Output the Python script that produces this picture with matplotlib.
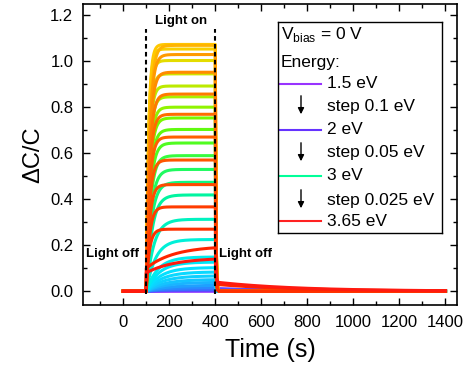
import numpy as np
import matplotlib
matplotlib.use("Agg")
import matplotlib.pyplot as plt
from matplotlib.ticker import MultipleLocator

plt.rcParams["font.family"] = ["Liberation Sans", "DejaVu Sans"]

# light on / off times (s)
t_on, t_off, t_end = 100, 400, 1400

# plateau values of dC/C, low energy (violet) -> 3 eV+ (yellow)
rainbow_amp = [0.0, 0.002, 0.005, 0.009, 0.016, 0.026, 0.039, 0.051, 0.067, 0.084,
               0.103, 0.127, 0.149, 0.225, 0.313, 0.419, 0.474, 0.530, 0.590, 0.645,
               0.704, 0.754, 0.801, 0.846, 0.893, 0.946, 1.004, 1.054, 1.074]
rainbow_colors = ["#9933ff", "#7a33ff", "#5a4cff", "#3a6cff", "#2a88ff", "#1fa0ff",
                  "#1ab4ff", "#14c4ff", "#0fd0ff", "#0ad8ff", "#05e0ff", "#00e6f8",
                  "#00ecee", "#00f0d8", "#00f2c0", "#00f5a0", "#10f880", "#20fa60",
                  "#38fc40", "#50fc20", "#60fa10", "#78f800", "#90f400", "#a8f000",
                  "#bcea00", "#d0e400", "#e4dc00", "#f8d000", "#ffc800"]
rainbow_tau = [90, 90, 90, 90, 85, 85, 80, 75, 70, 65, 60, 55, 50, 40, 32, 25, 22,
               20, 18, 17, 16, 15, 14, 13, 12, 12, 11, 10, 10]

# high energy curves (orange -> red), plateau values at t = 400 s
hot_amp = [1.070, 1.030, 0.953, 0.858, 0.770, 0.671, 0.571, 0.464, 0.367, 0.270,
           0.197, 0.145]
hot_jump = [0.0, 0.0, 0.0, 0.0, 0.0, 0.0, 0.0, 0.0, 0.0, 0.02, 0.10, 0.08]
hot_colors = ["#ffb400", "#ff9a00", "#ff8c00", "#ff7a00", "#ff6c00", "#ff6000",
              "#ff5500", "#ff4a00", "#ff3c00", "#ff3000", "#ff2400", "#ff1a10"]
hot_tail = [0.0, 0.0, 0.0, 0.0, 0.0, 0.0, 0.0, 0.0, 0.0, 0.0, 0.03, 0.04]

t = np.linspace(0, t_end, 1401)


def trace(amp, tau, jump=0.0, tail=0.0):
    y = np.zeros_like(t)
    on = (t >= t_on) & (t <= t_off)
    slow = amp - jump
    y[on] = jump + slow * (1 - np.exp(-(t[on] - t_on) / tau))
    off = t > t_off
    y[off] = tail * np.exp(-(t[off] - t_off) / 350) + amp * np.exp(-(t[off] - t_off) / 2.5)
    return y


fig = plt.figure(figsize=(4.73, 3.73), dpi=100)
ax = fig.add_axes([83 / 473, 68 / 373, 374 / 473, 301 / 373])

for a, c, tau in zip(rainbow_amp, rainbow_colors, rainbow_tau):
    ax.plot(t, trace(a, tau, tail=0.01 if a < 0.006 else 0.0), color=c, lw=2.2)
for i, (a, c) in enumerate(zip(hot_amp, hot_colors)):
    tau = 120 if i >= 10 else 14
    ax.plot(t, trace(a, tau, hot_jump[i], hot_tail[i]), color=c, lw=2.2)

for x0 in (t_on, t_off):
    ax.plot([x0, x0], [-0.012, 1.14], color="black", ls=(0, (2.2, 1.6)), lw=1.5)

ax.text(250, 1.178, "Light on", ha="center", va="center", fontsize=9.5, fontweight="bold")
ax.text(-45, 0.16, "Light off", ha="center", va="center", fontsize=9.5, fontweight="bold")
ax.text(418, 0.16, "Light off", ha="left", va="center", fontsize=9.5, fontweight="bold")

ax.set_xlim(-175, 1450)
ax.set_ylim(-0.06, 1.25)
ax.xaxis.set_minor_locator(MultipleLocator(100))
ax.yaxis.set_major_locator(MultipleLocator(0.2))
ax.yaxis.set_minor_locator(MultipleLocator(0.1))
ax.set_xticks(np.arange(0, 1401, 200))
ax.yaxis.set_major_formatter(plt.FormatStrFormatter("%.1f"))
ax.tick_params(which="both", direction="in", top=True, right=True, labelsize=12, width=1)
ax.tick_params(which="major", length=5, pad=7)
ax.tick_params(which="minor", length=3)
for s in ax.spines.values():
    s.set_linewidth(1.2)
ax.set_xlabel("Time (s)", fontsize=18, labelpad=6)
ax.set_ylabel("ΔC/C", fontsize=17, labelpad=4)

# legend box drawn by hand
lg = fig.add_axes([278 / 473, (373 - 233) / 373, 164 / 473, 211 / 373])
lg.set_xlim(0, 164)
lg.set_ylim(211, 0)
lg.set_xticks([])
lg.set_yticks([])
for s in lg.spines.values():
    s.set_linewidth(1)
fs = 12.5
lg.text(3, 13, r"V$_{\mathregular{bias}}$ = 0 V", fontsize=fs, va="center")
lg.text(3, 40, "Energy:", fontsize=fs, va="center")
entries = [("1.5 eV", "#9933ff", 62), ("2 eV", "#6633ff", 108),
           ("3 eV", "#00ff99", 154), ("3.65 eV", "#ff2222", 199)]
for lab, c, yy in entries:
    lg.plot([1, 43], [yy, yy], color=c, lw=1.5)
    lg.text(49, yy, lab, fontsize=fs, va="center")
for lab, y0 in [("step 0.1 eV", 71), ("step 0.05 eV", 118), ("step 0.025 eV", 165)]:
    lg.annotate("", xy=(23, y0 + 24), xytext=(23, y0),
                arrowprops=dict(arrowstyle="-|>", color="black", lw=1, mutation_scale=9))
    lg.text(49, y0 + 13, lab, fontsize=fs, va="center")

fig.savefig("out.png", dpi=100)
